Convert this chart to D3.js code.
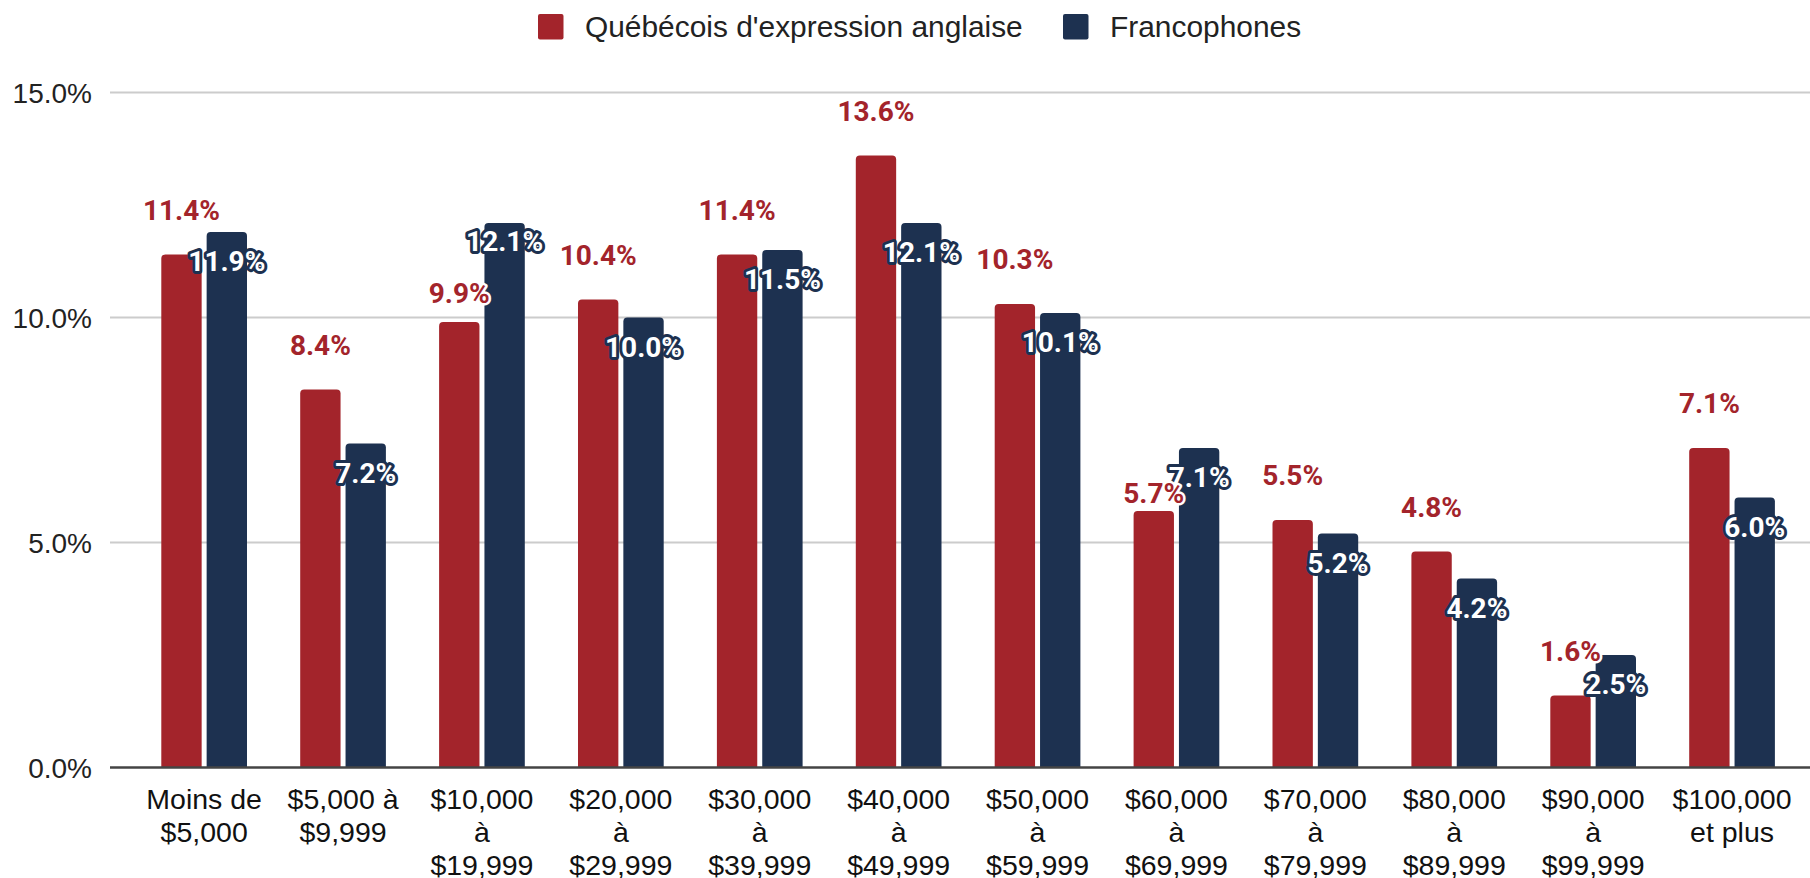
<!DOCTYPE html>
<html>
<head>
<meta charset="utf-8">
<script src="https://cdn.jsdelivr.net/npm/d3@7"></script>
<style>
  html, body { margin: 0; padding: 0; background: #ffffff; }
  svg { display: block; }
</style>
</head>
<body>
<svg id="chart" width="1810" height="878"></svg>
<script>
// ---- Data ----
const categories = [
  "Moins de\n$5,000",
  "$5,000 à\n$9,999",
  "$10,000\nà\n$19,999",
  "$20,000\nà\n$29,999",
  "$30,000\nà\n$39,999",
  "$40,000\nà\n$49,999",
  "$50,000\nà\n$59,999",
  "$60,000\nà\n$69,999",
  "$70,000\nà\n$79,999",
  "$80,000\nà\n$89,999",
  "$90,000\nà\n$99,999",
  "$100,000\net plus"
];
const seriesNames = ["Québécois d'expression anglaise", "Francophones"];
const anglophones = [11.4, 8.4, 9.9, 10.4, 11.4, 13.6, 10.3, 5.7, 5.5, 4.8, 1.6, 7.1];
const francophones = [11.9, 7.2, 12.1, 10.0, 11.5, 12.1, 10.1, 7.1, 5.2, 4.2, 2.5, 6.0];
const yTicks = [0, 5, 10, 15];

// ---- Styles ----
const RED = "#a3242b";
const NAVY = "#1d3150";
const colors = [RED, NAVY];
const axisFont = "'Liberation Sans', Arial, sans-serif";
const labelFont = "Roboto, 'Noto Sans', sans-serif";

const svg = d3.select("#chart");
const plotLeft = 110, plotRight = 1810;

const x = d3.scaleBand().domain(categories).range([134.7, 1801.5])
  .paddingInner(0.383).paddingOuter(0.1915);
const xs = d3.scaleBand().domain([0, 1]).range([0, x.bandwidth()]).paddingInner(0.11);
const y = d3.scaleLinear().domain([0, 15]).range([767.5, 92.5]);

// gridlines
const grid = svg.append("g");
grid.selectAll("line").data(yTicks.filter(d => d !== 0)).join("line")
  .attr("x1", plotLeft).attr("x2", plotRight)
  .attr("y1", d => y(d)).attr("y2", d => y(d))
  .attr("stroke", "#cccccc").attr("stroke-width", 2);

// y axis (labels only)
const yAxis = d3.axisLeft(y).tickValues(yTicks).tickSize(0).tickPadding(0)
  .tickFormat(d => d.toFixed(1) + "%");
const yg = svg.append("g").attr("transform", `translate(92,0)`).call(yAxis);
yg.select(".domain").remove();
yg.selectAll("text")
  .attr("font-family", axisFont).attr("font-size", 28).attr("fill", "#222")
  .attr("dy", "0.36em");

// bars
function topRounded(x0, y0, w, h, r) {
  r = Math.min(r, w / 2, h);
  return `M${x0},${y0 + h}V${y0 + r}Q${x0},${y0} ${x0 + r},${y0}H${x0 + w - r}Q${x0 + w},${y0} ${x0 + w},${y0 + r}V${y0 + h}Z`;
}
const series = [anglophones, francophones];
const barsG = svg.append("g");
series.forEach((vals, si) => {
  barsG.append("g").selectAll("path").data(vals).join("path")
    .attr("d", (v, i) => {
      const bx = x(categories[i]) + xs(si);
      return topRounded(bx, y(v), xs.bandwidth(), y(0) - y(v), 4);
    })
    .attr("fill", colors[si]);
});

// baseline
svg.append("line").attr("x1", plotLeft).attr("x2", plotRight)
  .attr("y1", y(0)).attr("y2", y(0))
  .attr("stroke", "#444").attr("stroke-width", 2.5);

// x axis labels
const xg = svg.append("g");
categories.forEach((c, i) => {
  const cx = x(c) + x.bandwidth() / 2;
  const t = xg.append("text")
    .attr("x", cx).attr("y", 809)
    .attr("text-anchor", "middle")
    .attr("font-family", axisFont).attr("font-size", 28.5).attr("fill", "#111");
  c.split("\n").forEach((line, li) => {
    t.append("tspan").attr("x", cx).attr("y", 809 + li * 33).text(line);
  });
});

// data labels
const fmt = v => v.toFixed(1) + "%";
const redNudge = {2: 16, 7: 27};
const blueNudge = {2: -11};
const labelsG = svg.append("g");
// blue labels (white text, navy halo)
francophones.forEach((v, i) => {
  const cx = x(categories[i]) + xs(1) + xs.bandwidth() / 2;
  const ty = y(v) + 39 + (blueNudge[i] || 0);
  labelsG.append("text")
    .attr("x", cx).attr("y", ty).attr("text-anchor", "middle")
    .attr("font-family", labelFont).attr("font-weight", 700).attr("font-size", 28)
    .attr("fill", "#ffffff").attr("stroke", NAVY).attr("stroke-width", 6)
    .attr("stroke-linejoin", "round").attr("paint-order", "stroke")
    .text(fmt(v));
});
// red labels (red text, white halo)
anglophones.forEach((v, i) => {
  const cx = x(categories[i]) + xs(0) + xs.bandwidth() / 2;
  const ty = y(v) - 35 + (redNudge[i] || 0);
  labelsG.append("text")
    .attr("x", cx).attr("y", ty).attr("text-anchor", "middle")
    .attr("font-family", labelFont).attr("font-weight", 700).attr("font-size", 28)
    .attr("fill", RED).attr("stroke", "#ffffff").attr("stroke-width", 5)
    .attr("stroke-linejoin", "round").attr("paint-order", "stroke")
    .text(fmt(v));
});

// legend
const legend = svg.append("g");
const legendItems = [
  {name: seriesNames[0], color: RED, sx: 538},
  {name: seriesNames[1], color: NAVY, sx: 1063}
];
legendItems.forEach(it => {
  legend.append("rect").attr("x", it.sx).attr("y", 14).attr("width", 25.5).attr("height", 25.5)
    .attr("rx", 2).attr("fill", it.color);
  legend.append("text").attr("x", it.sx + 47).attr("y", 37)
    .attr("font-family", axisFont).attr("font-size", 29.9).attr("fill", "#222")
    .text(it.name);
});
</script>
</body>
</html>
